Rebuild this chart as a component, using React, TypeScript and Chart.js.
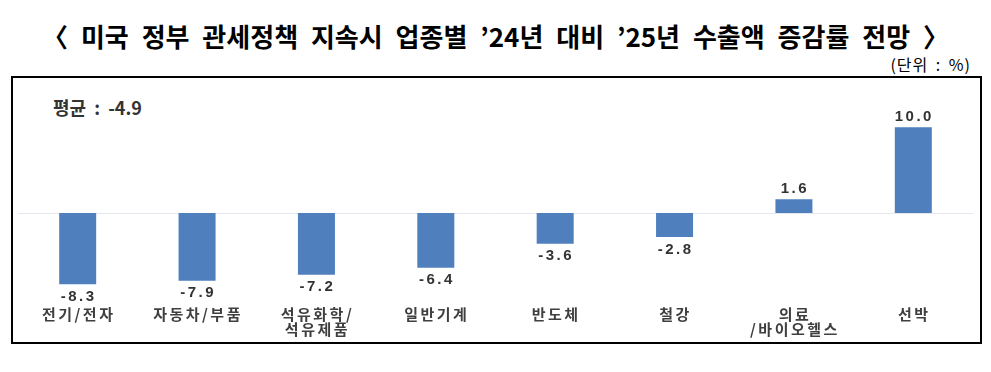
import React, { useEffect, useRef } from "react";
import { Chart, registerables } from "chart.js";

Chart.register(...registerables);

const TITLE = "〈 미국 정부 관세정책 지속시 업종별 ’24년 대비 ’25년 수출액 증감률 전망 〉";
const UNIT = "(단위 : %)";
const AVERAGE_LABEL = "평균 : -4.9";
const categories: string[][] = [
  ["전기/전자"],
  ["자동차/부품"],
  ["석유화학/", "석유제품"],
  ["일반기계"],
  ["반도체"],
  ["철강"],
  ["의료", "/바이오헬스"],
  ["선박"],
];
const values: number[] = [-8.3, -7.9, -7.2, -6.4, -3.6, -2.8, 1.6, 10.0];

const KFONT = '"Noto Sans CJK KR", "Noto Sans", sans-serif';

const overlayPlugin = {
  id: "overlay",
  beforeDatasetsDraw(chart: any) {
    const { ctx, chartArea, scales } = chart;
    const y0 = Math.round(scales.y.getPixelForValue(0)) + 0.5;
    ctx.save();
    ctx.strokeStyle = "#e4e8ee";
    ctx.lineWidth = 1;
    ctx.beginPath();
    ctx.moveTo(chartArea.left, y0);
    ctx.lineTo(chartArea.right, y0);
    ctx.stroke();
    ctx.restore();
  },
  afterDatasetsDraw(chart: any) {
    const { ctx, scales } = chart;
    const meta = chart.getDatasetMeta(0);
    ctx.save();
    // value labels
    ctx.fillStyle = "#333333";
    ctx.font = `bold 15px "Liberation Sans", Arial, sans-serif`;
    (ctx as any).letterSpacing = "2.5px";
    ctx.textAlign = "center";
    meta.data.forEach((bar: any, i: number) => {
      const v = values[i];
      const txt = v.toFixed(1);
      if (v >= 0) {
        ctx.textBaseline = "bottom";
        ctx.fillText(txt, bar.x + 1, bar.y - 3);
      } else {
        ctx.textBaseline = "top";
        ctx.fillText(txt, bar.x + 1, bar.y + 5);
      }
    });
    // category labels
    ctx.fillStyle = "#3f3f3f";
    ctx.font = `bold 15px ${KFONT}`;
    (ctx as any).letterSpacing = "2.5px";
    ctx.textBaseline = "middle";
    categories.forEach((lines, i) => {
      const x = scales.x.getPixelForValue(i);
      lines.forEach((ln, j) => {
        ctx.fillText(ln, x + 1, 314 + j * 15);
      });
    });
    ctx.restore();
  },
};

export default function App() {
  const ref = useRef<HTMLCanvasElement | null>(null);
  useEffect(() => {
    if (!ref.current) return;
    const chart = new Chart(ref.current, {
      type: "bar",
      data: {
        labels: categories.map((c) => c.join("")),
        datasets: [
          {
            data: values,
            backgroundColor: "#4f7fbd",
            barPercentage: 0.31,
            categoryPercentage: 1,
          },
        ],
      },
      options: {
        animation: false,
        responsive: false,
        maintainAspectRatio: false,
        layout: { padding: { left: 18, right: 18, top: 110, bottom: 69 } },
        plugins: { legend: { display: false }, tooltip: { enabled: false } },
        scales: {
          x: { display: false },
          y: { display: false, min: -10.5, max: 12 },
        },
      },
      plugins: [overlayPlugin],
    });
    return () => chart.destroy();
  }, []);

  return (
    <div style={{ position: "fixed", left: 0, top: 0, width: 991, height: 372, background: "#fff", overflow: "hidden" }}>
      <div
        style={{
          position: "absolute",
          left: 0,
          top: 19,
          width: 991,
          textAlign: "center",
          fontFamily: KFONT,
          fontWeight: 700,
          fontSize: 26,
          wordSpacing: 7,
          lineHeight: "34px",
          color: "#000",
          whiteSpace: "nowrap",
        }}
      >
        {TITLE}
      </div>
      <div
        style={{
          position: "absolute",
          right: 20,
          top: 53,
          fontFamily: KFONT,
          fontSize: 16,
          letterSpacing: 1,
          wordSpacing: 3,
          lineHeight: "22px",
          color: "#000",
          whiteSpace: "nowrap",
        }}
      >
        {UNIT}
      </div>
      <div
        style={{
          position: "absolute",
          left: 11,
          top: 76,
          width: 967,
          height: 264,
          border: "2px solid #000",
        }}
      />
      <div
        style={{
          position: "absolute",
          left: 53,
          top: 95,
          fontFamily: KFONT,
          fontWeight: 700,
          fontSize: 18,
          wordSpacing: 4,
          lineHeight: "24px",
          color: "#333",
          whiteSpace: "nowrap",
        }}
      >
        {AVERAGE_LABEL}
      </div>
      <canvas ref={ref} width={991} height={372} style={{ position: "absolute", left: 0, top: 0, width: 991, height: 372 }} />
    </div>
  );
}
